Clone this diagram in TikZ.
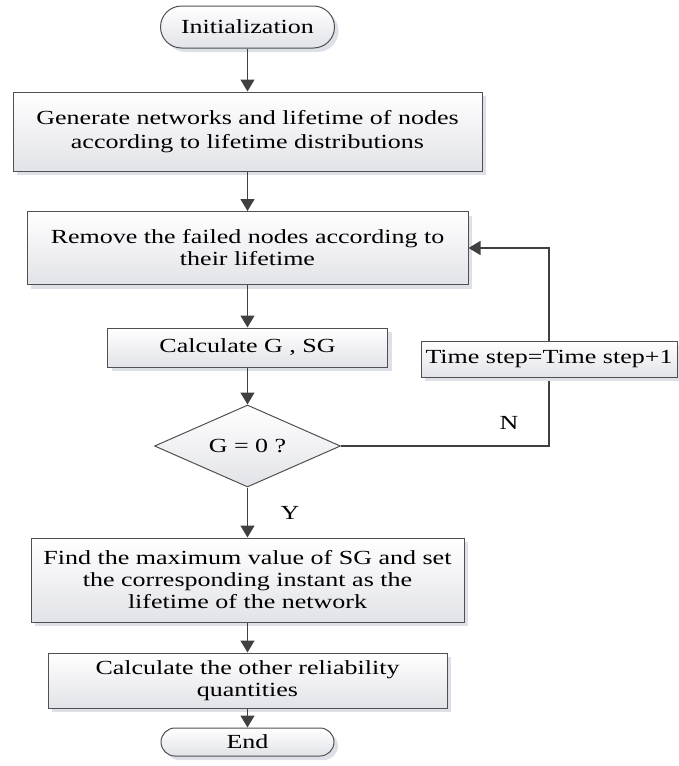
\documentclass[tikz,border=0pt]{standalone}
\usepackage{fontspec}
\setmainfont{Liberation Serif}[FakeStretch=1.3]
\usetikzlibrary{arrows.meta,shapes.geometric,shapes.misc,shadows}
\definecolor{edgec}{HTML}{505050}
\definecolor{linec}{HTML}{404040}
\definecolor{boxb}{HTML}{E2E3E8}
\definecolor{shadc}{HTML}{DDE0E6}
\begin{document}
\begin{tikzpicture}[x=1pt,y=-1pt,
  every node/.style={font=\fontsize{20}{22}\selectfont, text=black},
  gradfill/.style={top color=white, bottom color=boxb},
  procbox/.style={gradfill, draw=edgec, line width=1pt, rectangle, align=center, inner sep=0pt,
    drop shadow={shadow xshift=4pt, shadow yshift=-4pt, fill=shadc, opacity=1}},
  term/.style={procbox, rounded rectangle},
  decision/.style={gradfill, draw=edgec, line width=1pt, diamond, aspect=2.27, inner sep=0pt},
  flow/.style={draw=linec, line width=1.5pt, -{Triangle[length=12pt,width=14pt]}},
  lbl/.style={inner sep=0pt}
]
\useasboundingbox (0,0) rectangle (678,766);

\node[term, minimum width=174pt, minimum height=42pt] (init) at (247.5,27) {Initialization};
\node[procbox, minimum width=469pt, minimum height=79pt, font=\fontsize{20}{24}\selectfont] (gen) at (247.5,131.5)
  {Generate networks and lifetime of nodes\\according to lifetime distributions};
\node[procbox, minimum width=441pt, minimum height=73pt] (rem) at (247.5,248)
  {Remove the failed nodes according to\\their lifetime};
\node[procbox, minimum width=280pt, minimum height=39pt] (calc) at (247.5,347.5)
  {Calculate G , SG};
\node[decision, minimum width=186pt, minimum height=82pt] (dec) at (247.5,446) {G = 0 ?};
\node[procbox, minimum width=433pt, minimum height=84pt] (find) at (247.5,580)
  {Find the maximum value of SG and set\\the corresponding instant as the\\lifetime of the network};
\node[procbox, minimum width=399pt, minimum height=55pt] (other) at (247.5,680.5)
  {Calculate the other reliability\\quantities};
\node[term, minimum width=173pt, minimum height=28pt] (end) at (247.5,742) {End};

\draw[flow] (init.south) -- (init.south |- gen.north);
\draw[flow] (gen.south) -- (gen.south |- rem.north);
\draw[flow] (rem.south) -- (rem.south |- calc.north);
\draw[flow] (calc.south) -- (dec.north);
\draw[flow] (dec.south) -- (dec.south |- find.north);
\draw[flow] (find.south) -- (find.south |- other.north);
\draw[flow] (other.south) -- (other.south |- end.north);

\coordinate (lr) at (549,446);
\coordinate (ur) at (549,248);
\draw[flow] (dec.east) -- (lr) -- (ur) -- (rem.east);

\node[procbox, minimum width=256pt, minimum height=36pt] (time) at (549,359)
  {Time step=Time step+1};

\node[lbl] (nlab) at (509,423) {N};
\node[lbl] (ylab) at (290,513) {Y};
\end{tikzpicture}
\end{document}
